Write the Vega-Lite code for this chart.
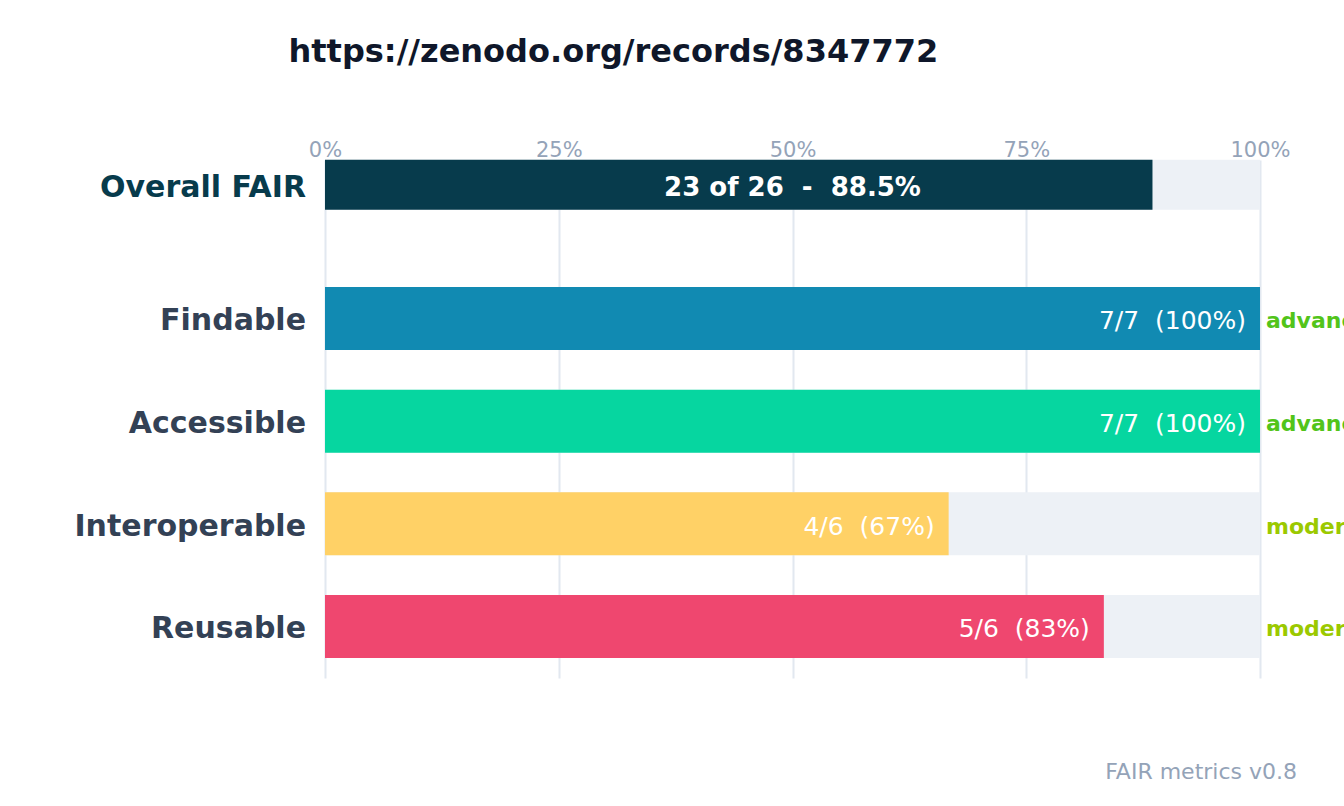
{
  "$schema": "https://vega.github.io/schema/vega-lite/v6.json",
  "autosize": "none",
  "width": 935,
  "height": 518,
  "padding": {"left": 325, "top": 160, "right": 84, "bottom": 128},
  "background": "#ffffff",
  "config": {"view": {"stroke": null}, "font": "DejaVu Sans"},
  "title": {
    "text": "FAIR metrics v0.8",
    "orient": "bottom",
    "anchor": "end",
    "frame": "group",
    "dx": 37,
    "offset": 101,
    "baseline": "alphabetic",
    "font": "DejaVu Sans",
    "fontSize": 22,
    "fontWeight": "normal",
    "color": "#94a3b8"
  },
  "data": {
    "values": [
      {"dimension": "Overall FAIR", "score": 88.5, "label": "23 of 26\u00a0\u00a0-\u00a0\u00a088.5%", "maturity": null},
      {"dimension": "Findable", "score": 100, "label": "7/7\u00a0\u00a0(100%)", "maturity": "advanced"},
      {"dimension": "Accessible", "score": 100, "label": "7/7\u00a0\u00a0(100%)", "maturity": "advanced"},
      {"dimension": "Interoperable", "score": 66.7, "label": "4/6\u00a0\u00a0(67%)", "maturity": "moderate"},
      {"dimension": "Reusable", "score": 83.3, "label": "5/6\u00a0\u00a0(83%)", "maturity": "moderate"}
    ]
  },
  "encoding": {
    "y": {
      "field": "dimension",
      "type": "nominal",
      "sort": ["Overall FAIR", "Findable", "Accessible", "Interoperable", "Reusable"],
      "scale": {"paddingInner": 0.3864, "paddingOuter": 0.2159, "align": 0.548},
      "axis": null
    }
  },
  "layer": [
    {
      "transform": [{"filter": "datum.dimension !== 'Overall FAIR'"}],
      "mark": {"type": "bar", "color": "#edf1f6"},
      "encoding": {
        "x": {
          "datum": 100,
          "type": "quantitative",
          "scale": {"domain": [0, 100]},
          "axis": {
            "orient": "top",
            "values": [0, 25, 50, 75, 100],
            "labelExpr": "datum.value + '%'",
            "labelFlush": false,
            "labelAlign": "center",
            "labelBaseline": "alphabetic",
            "labelPadding": 4,
            "labelFont": "DejaVu Sans",
            "labelFontSize": 21,
            "labelColor": "#94a3b8",
            "ticks": false,
            "tickSize": 0,
            "domain": false,
            "grid": true,
            "gridColor": "#e2e8f0",
            "gridWidth": 2,
            "title": "https://zenodo.org/records/8347772",
            "titleFont": "DejaVu Sans",
            "titleFontSize": 32,
            "titleFontWeight": "bold",
            "titleColor": "#0f172a",
            "titleAlign": "left",
            "titleAnchor": "start",
            "titleBaseline": "alphabetic",
            "titleX": -37,
            "titleY": -99
          }
        }
      }
    },
    {
      "transform": [{"filter": "datum.dimension === 'Overall FAIR'"}],
      "mark": {"type": "bar", "color": "#edf1f6", "size": 50, "yOffset": -31},
      "encoding": {"x": {"datum": 100, "type": "quantitative"}}
    },
    {
      "mark": {"type": "bar"},
      "transform": [{"filter": "datum.dimension !== 'Overall FAIR'"}],
      "encoding": {
        "x": {"field": "score", "type": "quantitative"},
        "color": {
          "field": "dimension",
          "type": "nominal",
          "scale": {
            "domain": ["Overall FAIR", "Findable", "Accessible", "Interoperable", "Reusable"],
            "range": ["#073b4c", "#118ab2", "#06d6a0", "#ffd166", "#ef476f"]
          },
          "legend": null
        }
      }
    },
    {
      "transform": [{"filter": "datum.dimension === 'Overall FAIR'"}],
      "mark": {"type": "bar", "size": 50, "yOffset": -31},
      "encoding": {
        "x": {"field": "score", "type": "quantitative"},
        "color": {
          "field": "dimension",
          "type": "nominal",
          "scale": {
            "domain": ["Overall FAIR", "Findable", "Accessible", "Interoperable", "Reusable"],
            "range": ["#073b4c", "#118ab2", "#06d6a0", "#ffd166", "#ef476f"]
          },
          "legend": null
        }
      }
    },
    {
      "transform": [{"filter": "datum.dimension !== 'Overall FAIR'"}],
      "mark": {"type": "text", "align": "right", "baseline": "middle", "dx": -14, "dy": 3, "font": "DejaVu Sans", "fontSize": 25, "color": "#ffffff"},
      "encoding": {
        "x": {"field": "score", "type": "quantitative"},
        "text": {"field": "label"}
      }
    },
    {
      "transform": [{"filter": "datum.dimension === 'Overall FAIR'"}],
      "mark": {"type": "text", "align": "center", "baseline": "middle", "yOffset": -31, "dy": 3, "font": "DejaVu Sans", "fontSize": 26, "fontWeight": "bold", "color": "#ffffff"},
      "encoding": {
        "x": {"datum": 50, "type": "quantitative"},
        "text": {"field": "label"}
      }
    },
    {
      "transform": [{"filter": "datum.dimension !== 'Overall FAIR'"}],
      "mark": {"type": "text", "align": "right", "baseline": "middle", "dx": -19, "dy": 3, "font": "DejaVu Sans", "fontSize": 30, "fontWeight": "bold", "color": "#334155"},
      "encoding": {
        "x": {"datum": 0, "type": "quantitative"},
        "text": {"field": "dimension"}
      }
    },
    {
      "transform": [{"filter": "datum.dimension === 'Overall FAIR'"}],
      "mark": {"type": "text", "align": "right", "baseline": "middle", "dx": -19, "dy": 3, "yOffset": -31, "font": "DejaVu Sans", "fontSize": 30, "fontWeight": "bold", "color": "#073b4c"},
      "encoding": {
        "x": {"datum": 0, "type": "quantitative"},
        "text": {"field": "dimension"}
      }
    },
    {
      "transform": [{"filter": "datum.maturity !== null"}],
      "mark": {"type": "text", "align": "left", "baseline": "middle", "dx": 6, "dy": 3, "font": "DejaVu Sans", "fontSize": 22, "fontWeight": "bold"},
      "encoding": {
        "x": {"datum": 100, "type": "quantitative"},
        "text": {"field": "maturity"},
        "color": {
          "field": "maturity",
          "type": "nominal",
          "scale": {"domain": ["advanced", "moderate"], "range": ["#52c41a", "#9bc900"]},
          "legend": null
        }
      }
    }
  ],
  "resolve": {"scale": {"color": "independent"}}
}
